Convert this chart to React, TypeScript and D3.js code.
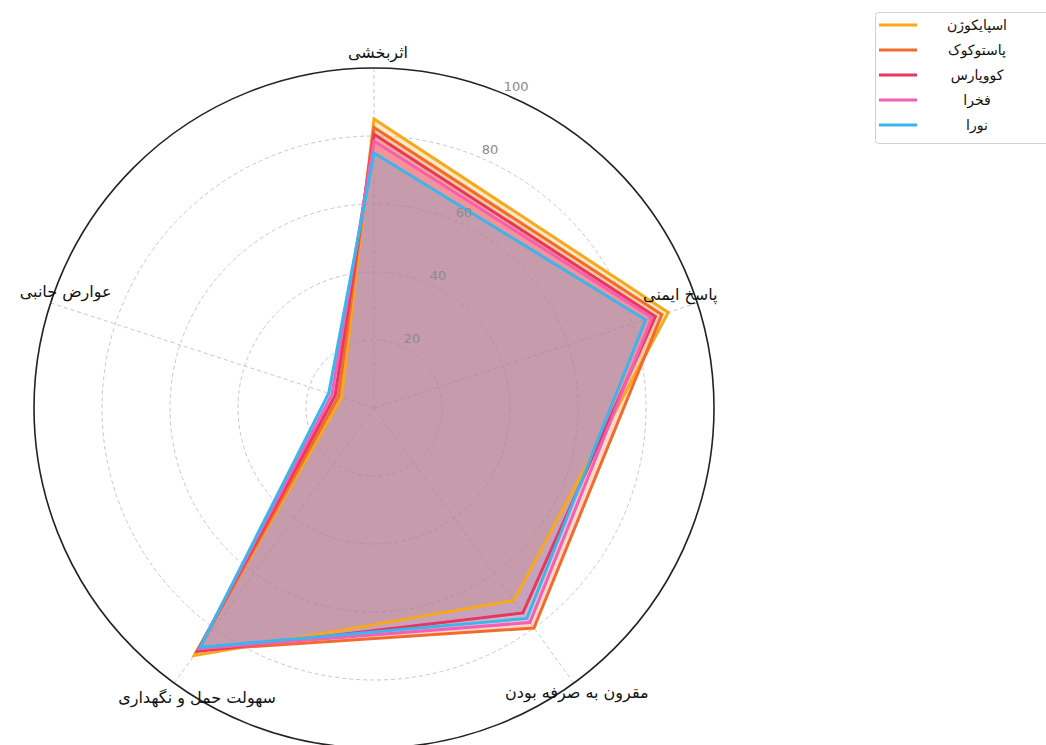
import React from "react";
import * as d3 from "d3";

const axes = ["اثربخشی", "پاسخ ایمنی", "مقرون به صرفه بودن", "سهولت حمل و نگهداری", "عوارض جانبی"];
const seriesNames = ["اسپایکوژن", "پاستوکوک", "کووپارس", "فخرا", "نورا"];
const spikogen = [85, 91, 70, 90, 10];
const pastocovac = [82.5, 89, 80, 88, 11];
const covpars = [80.5, 87, 74.5, 88.5, 12];
const fakhra = [78.5, 86, 78, 87.5, 13];
const noora = [75, 84, 76.5, 87, 14];
const seriesValues = [spikogen, pastocovac, covpars, fakhra, noora];
const colors = ["#F7A81B", "#F26B2D", "#E8365D", "#F45FB5", "#3CB4EC"];
const radialTicks = [20, 40, 60, 80, 100];

// layout
const W = 1046, H = 745;
const cx = 374, cy = 408, R = 340;
const labelNudge: [number, number][] = [[4, -16], [-17, -8], [3, 9], [23, 14], [15, -11]];

export default function App() {
  const r = d3.scaleLinear().domain([0, 100]).range([0, R]);
  const angle = d3.scaleLinear().domain([0, axes.length]).range([0, 2 * Math.PI]);
  const line = d3
    .lineRadial<number>()
    .angle((_, i) => angle(i))
    .radius((d) => r(d))
    .curve(d3.curveLinearClosed);
  const pt = (a: number, rad: number): [number, number] => [rad * Math.sin(a), -rad * Math.cos(a)];
  const tickAngle = (22.5 * Math.PI) / 180;

  return (
    <svg width={W} height={H} style={{ position: "absolute", left: 0, top: 0, background: "#fff" }}
      fontFamily="'DejaVu Sans', sans-serif">
      <g transform={`translate(${cx},${cy})`}>
        {radialTicks.slice(0, -1).map((t) => (
          <circle key={t} r={r(t)} fill="none" stroke="#c8c8c8" strokeWidth={1} strokeDasharray="4,3" />
        ))}
        {axes.map((a, i) => {
          const [x, y] = pt(angle(i), r(100));
          return <line key={a} x1={0} y1={0} x2={x} y2={y} stroke="#c8c8c8" strokeWidth={1} strokeDasharray="4,3" />;
        })}
        {seriesValues.map((vals, k) => (
          <path key={"f" + k} d={line(vals) ?? ""} fill={colors[k]} fillOpacity={0.25} stroke="none" />
        ))}
        {seriesValues.map((vals, k) => (
          <path key={"l" + k} d={line(vals) ?? ""} fill="none" stroke={colors[k]} strokeWidth={3} strokeLinejoin="miter" />
        ))}
        <circle r={r(100)} fill="none" stroke="#222" strokeWidth={1.6} />
        {radialTicks.map((t) => {
          const [x, y] = pt(tickAngle, r(t));
          return (
            <text key={t} x={x + 12} y={y - 7} textAnchor="middle" dominantBaseline="central" fontSize={13} fill="#8a8a8a">
              {t}
            </text>
          );
        })}
        {axes.map((a, i) => {
          const [x, y] = pt(angle(i), r(100));
          return (
            <text key={a} x={x + labelNudge[i][0]} y={y + labelNudge[i][1]} textAnchor="middle" dominantBaseline="central"
              fontSize={16} fill="#111" direction="rtl">
              {a}
            </text>
          );
        })}
      </g>
      <g>
        <rect x={875.5} y={12.5} width={180} height={131} rx={3} fill="#fff" stroke="#d0d0d0" strokeWidth={1} />
        {seriesNames.map((n, k) => (
          <g key={n} transform={`translate(0,${25 + k * 25})`}>
            <line x1={879} x2={917} y1={0} y2={0} stroke={colors[k]} strokeWidth={3} />
            <text x={977} y={0} textAnchor="middle" dominantBaseline="central" fontSize={14} fill="#111" direction="rtl">
              {n}
            </text>
          </g>
        ))}
      </g>
    </svg>
  );
}
